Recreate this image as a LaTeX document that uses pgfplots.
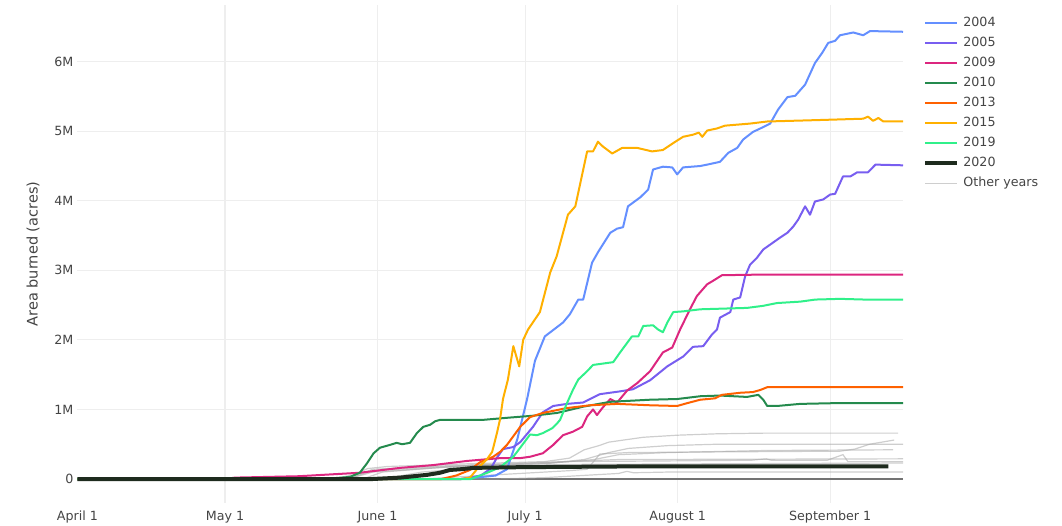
\documentclass[border=0pt]{standalone}
\usepackage{pgfplots}
\pgfplotsset{compat=1.18}
\usepackage{fontspec}
\setmainfont{DejaVu Sans}
\definecolor{c2004}{HTML}{648FFF}
\definecolor{c2005}{HTML}{785EF0}
\definecolor{c2009}{HTML}{DC267F}
\definecolor{c2010}{HTML}{248A4D}
\definecolor{c2013}{HTML}{FE6100}
\definecolor{c2015}{HTML}{FFB000}
\definecolor{c2019}{HTML}{30F08A}
\definecolor{c2020}{HTML}{1E2B1E}
\definecolor{txt}{HTML}{444444}
\definecolor{gridc}{HTML}{EEEEEE}
\begin{document}
\begin{tikzpicture}
\useasboundingbox (0,0) rectangle (796.5pt,393.75pt);
\begin{axis}[
  at={(58.05pt,16.5pt)}, anchor=south west,
  scale only axis, width=619.2pt, height=373.5pt,
  xmin=0, xmax=167.8, ymin=-0.345, ymax=6.815,
  axis line style={draw=none},
  major tick style={draw=none},
  xtick={30,61,91,122,153},
  xticklabels={May 1,June 1,July 1,August 1,September 1},
  extra x ticks={0}, extra x tick labels={April 1},
  extra x tick style={grid=none},
  ytick={1,2,3,4,5,6},
  yticklabels={1M,2M,3M,4M,5M,6M},
  extra y ticks={0}, extra y tick labels={0},
  extra y tick style={major grid style={black!55,line width=0.8pt}},
  grid=major,
  major grid style={gridc,line width=0.8pt},
  tick label style={font=\fontsize{9.5}{11}\selectfont, text=txt},
  xticklabel style={anchor=center, yshift=-10.5pt},
  yticklabel style={xshift=0.5pt},
  ylabel={Area burned (acres)},
  ylabel style={font=\fontsize{10.9}{13}\selectfont, text=txt, at={(axis description cs:-0.0538,0.5)}, anchor=center},
  legend style={at={(axis description cs:1.0243,0.976)}, anchor=north west, draw=none, fill=none, inner sep=0pt,
    row sep=6pt, font=\fontsize{9.5}{11}\selectfont, text=txt,
    nodes={inner sep=0pt, text height=7pt, text depth=2pt},
    /tikz/every odd column/.append style={column sep=3pt}},
  legend cell align=left,
  legend image code/.code={\draw[#1] (0pt,0pt) -- (24pt,0pt);},
  every axis plot/.append style={line join=round},
]
% Other years
\pgfplotsset{oth/.style={black!35, opacity=0.55, line width=0.9pt, forget plot}}
\addplot[oth] coordinates {(0,0)(52,0)(56,0.06)(59,0.15)(63,0.18)(80,0.22)(95,0.25)(100,0.3)(103,0.42)(106,0.48)(108,0.53)(115,0.6)(122,0.63)(130,0.65)(140,0.66)(166.8,0.66)};
\addplot[oth] coordinates {(0,0)(55,0)(60,0.14)(75,0.19)(95,0.22)(103,0.28)(108,0.38)(112,0.44)(120,0.48)(130,0.5)(167.8,0.5)};
\addplot[oth] coordinates {(0,0)(70,0)(85,0.06)(100,0.12)(103.6,0.14)(106.2,0.36)(112,0.38)(130,0.39)(155,0.40)(158,0.43)(161,0.50)(166,0.56)};
\addplot[oth] coordinates {(0,0)(55,0)(60,0.1)(75,0.17)(95,0.22)(105,0.28)(110,0.35)(120,0.38)(140,0.41)(165.8,0.42)};
\addplot[oth] coordinates {(0,0)(55,0)(60,0.12)(75,0.18)(90,0.22)(100,0.25)(120,0.26)(137,0.27)(140,0.29)(141,0.27)(152.4,0.27)(155.6,0.35)(156.6,0.25)(167.8,0.25)};
\addplot[oth] coordinates {(0,0)(58,0)(62,0.1)(80,0.2)(95,0.24)(110,0.28)(167.8,0.29)};
\addplot[oth] coordinates {(0,0)(85,0)(95,0.02)(105,0.06)(110,0.08)(111.7,0.11)(113,0.09)(120,0.1)(167.8,0.10)};
\addplot[oth] coordinates {(0,0)(62,0)(70,0.1)(85,0.18)(100,0.21)(167.8,0.23)};
% 2004
\addplot[c2004, line width=1.5pt] coordinates {(0,0)(78,0)(81,0.02)(85,0.05)(87.3,0.14)(89.4,0.57)(91.4,1.15)(93.0,1.70)(95.0,2.05)(98.7,2.25)(100.1,2.37)(101.8,2.58)(102.8,2.58)(104.6,3.11)(105.8,3.26)(108.3,3.54)(109.7,3.60)(110.9,3.62)(111.9,3.92)(114.4,4.05)(116.0,4.16)(117.0,4.45)(119.0,4.49)(120.9,4.48)(121.9,4.38)(123.1,4.48)(126.6,4.50)(128.0,4.52)(130.6,4.56)(132.3,4.69)(134.1,4.76)(135.3,4.88)(137.3,4.99)(139.4,5.06)(140.8,5.11)(142.4,5.31)(144.3,5.49)(145.9,5.51)(147.9,5.67)(149.9,5.98)(151.4,6.13)(152.6,6.27)(154.0,6.30)(155.0,6.38)(157.7,6.42)(159.7,6.38)(161.1,6.44)(167.8,6.43)};
\addlegendentry{2004}
% 2005
\addplot[c2005, line width=1.5pt] coordinates {(0,0)(78,0)(82,0.05)(84,0.15)(85.3,0.31)(86.5,0.43)(88.6,0.46)(90.0,0.53)(92.6,0.75)(94.6,0.96)(96.7,1.05)(99.5,1.08)(102.8,1.10)(106.2,1.22)(110.3,1.26)(112.9,1.29)(116.4,1.42)(119.9,1.62)(123.1,1.76)(125.1,1.90)(127.2,1.91)(129.0,2.08)(130.0,2.15)(130.6,2.32)(132.7,2.40)(133.3,2.58)(134.7,2.61)(135.7,2.91)(136.7,3.08)(138.1,3.18)(139.4,3.30)(140.8,3.37)(142.8,3.47)(144.3,3.54)(145.5,3.63)(146.5,3.73)(147.9,3.92)(148.9,3.80)(149.9,3.99)(151.6,4.02)(153.0,4.09)(154.0,4.10)(155.6,4.35)(157.1,4.35)(158.5,4.41)(160.7,4.41)(162.2,4.52)(167.8,4.51)};
\addlegendentry{2005}
% 2009
\addplot[c2009, line width=1.5pt] coordinates {(0,0)(30,0)(32,0.02)(45,0.04)(57.4,0.09)(65.6,0.16)(72.3,0.2)(79.2,0.26)(85.9,0.30)(90,0.30)(92,0.32)(94.6,0.37)(96.7,0.49)(98.7,0.63)(100.7,0.68)(102.6,0.75)(103.6,0.9)(104.8,1.0)(105.6,0.92)(106.8,1.03)(108.3,1.15)(109.7,1.1)(111.7,1.27)(113.8,1.38)(116.4,1.55)(119.0,1.82)(120.9,1.89)(122.5,2.15)(124.5,2.44)(125.9,2.63)(128.0,2.80)(129.2,2.85)(131,2.93)(140,2.94)(167.8,2.94)};
\addlegendentry{2009}
% 2010
\addplot[c2010, line width=1.5pt] coordinates {(0,0)(50,0)(55.4,0.03)(57.4,0.09)(58.9,0.23)(60.2,0.37)(61.5,0.45)(63.5,0.49)(64.9,0.52)(66.0,0.50)(67.6,0.52)(69.0,0.66)(70.3,0.75)(71.7,0.78)(72.7,0.83)(73.7,0.85)(82.4,0.85)(87.3,0.88)(92.6,0.91)(97.5,0.95)(102.8,1.04)(108.3,1.11)(116.4,1.14)(121.9,1.15)(126.6,1.19)(130.6,1.20)(136.1,1.18)(138.4,1.21)(139.4,1.14)(140.2,1.05)(142.2,1.05)(146.9,1.08)(153.6,1.09)(167.8,1.09)};
\addlegendentry{2010}
% 2013
\addplot[c2013, line width=1.5pt] coordinates {(0,0)(74,0)(77,0.05)(79.8,0.13)(81.8,0.24)(84.5,0.32)(85.9,0.39)(87.3,0.49)(90.0,0.75)(92.0,0.89)(94.6,0.95)(99.5,1.02)(104.2,1.06)(109.7,1.08)(116.4,1.06)(121.9,1.05)(123.9,1.09)(126.6,1.14)(129.6,1.16)(131.0,1.21)(134.7,1.24)(137.3,1.25)(138.8,1.28)(140.2,1.32)(167.8,1.32)};
\addlegendentry{2013}
% 2015
\addplot[c2015, line width=1.5pt] coordinates {(0,0)(78,0)(79.8,0.02)(81.2,0.14)(83.3,0.29)(84.3,0.39)(85.3,0.67)(85.9,0.86)(86.5,1.15)(87.5,1.43)(88.6,1.91)(89.8,1.62)(90.6,2.0)(91.6,2.15)(94.0,2.40)(96.1,2.97)(97.4,3.20)(99.7,3.80)(101.2,3.92)(103.6,4.71)(104.8,4.71)(105.8,4.85)(106.8,4.78)(108.7,4.68)(110.7,4.76)(113.8,4.76)(116.8,4.71)(119.0,4.73)(121.1,4.83)(123.1,4.92)(125.1,4.95)(126.3,4.98)(127.0,4.92)(128.0,5.01)(130.0,5.04)(131.6,5.08)(136.7,5.11)(140.2,5.14)(150.3,5.16)(159.7,5.18)(160.7,5.21)(161.7,5.15)(162.8,5.19)(163.8,5.14)(167.8,5.14)};
\addlegendentry{2015}
% 2019
\addplot[c2019, line width=1.5pt] coordinates {(0,0)(80,0)(83.3,0.09)(85.9,0.17)(88.6,0.32)(90.0,0.45)(92.0,0.64)(93.4,0.63)(94.6,0.66)(96.5,0.73)(97.5,0.80)(98.1,0.85)(99.5,1.09)(100.7,1.28)(101.8,1.43)(103.6,1.55)(104.8,1.64)(108.9,1.68)(110.3,1.82)(112.7,2.05)(114.0,2.05)(115.0,2.20)(117.0,2.21)(118.0,2.15)(119.0,2.11)(119.9,2.25)(121.1,2.40)(123.1,2.41)(126.6,2.44)(136.1,2.46)(139.4,2.49)(142.2,2.53)(146.9,2.55)(150,2.58)(155,2.59)(160,2.58)(167.8,2.58)};
\addlegendentry{2019}
% 2020
\addplot[c2020, line width=3pt] coordinates {(0,0)(60,0)(65.6,0.02)(71.1,0.06)(73.7,0.09)(75.7,0.13)(77.8,0.14)(80.5,0.16)(90,0.17)(110,0.18)(164.8,0.18)};
\addlegendentry{2020}
\addlegendimage{black!35, opacity=0.55, line width=0.9pt}
\addlegendentry{Other years}
\end{axis}
\end{tikzpicture}
\end{document}
